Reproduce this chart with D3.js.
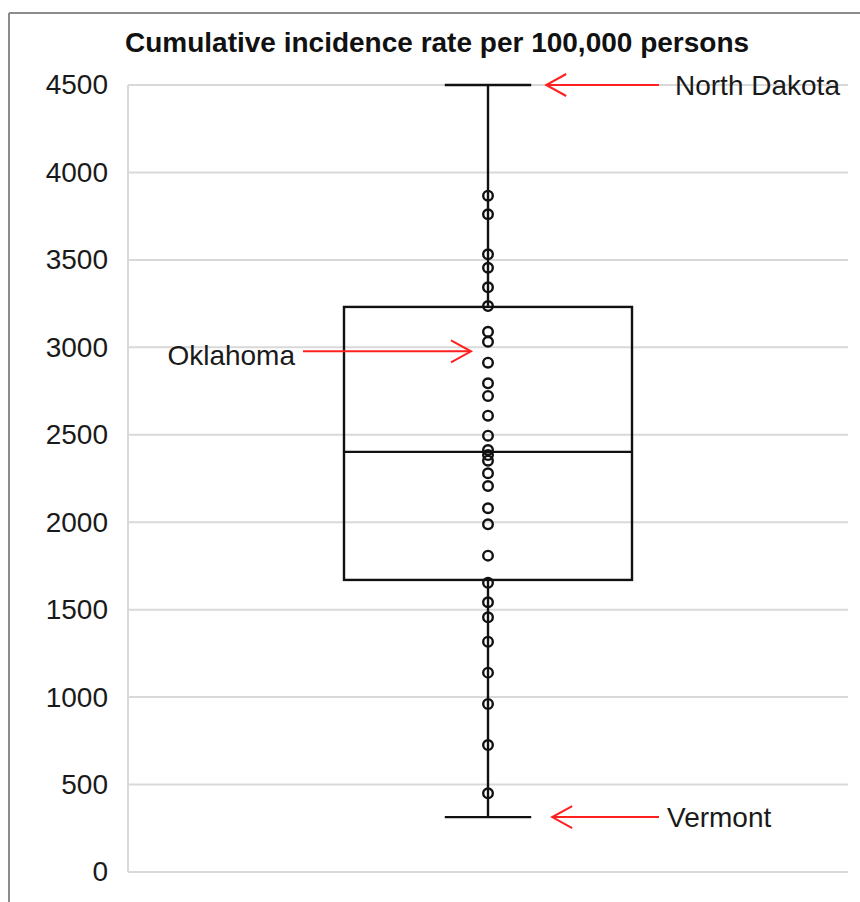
<!DOCTYPE html>
<meta charset="utf-8">
<style>
body { margin: 0; background: white; }
text { font-family: "Liberation Sans", Arial, sans-serif; }
</style>
<body>
<script src="https://d3js.org/d3.v7.min.js"></script>
<script>

const width = 860
const height = 902

// Box statistics
const boxMin = 314
const boxQ1 = 1670
const boxMedian = 2402
const boxQ3 = 3231
const boxMax = 4500

// State values shown as circles
const points = [3867, 3761, 3532, 3455, 3343, 3236, 3089, 3032, 2912, 2794,
  2722, 2609, 2495, 2413, 2384, 2352, 2280, 2207, 2080, 1988,
  1809, 1654, 1542, 1456, 1317, 1140, 961, 726, 450]

const yTicks = [0, 500, 1000, 1500, 2000, 2500, 3000, 3500, 4000, 4500]

// Labelled states
const notes = [
  { name: 'North Dakota', value: 4500, side: 'right' },
  { name: 'Oklahoma', value: 3000, side: 'left' },
  { name: 'Vermont', value: 314, side: 'right' }
]

const svg = d3.select('body')
  .append('svg')
  .attr('width', width)
  .attr('height', height)

// frame of the screenshot
svg.append('line').attr('x1', 9).attr('x2', 9).attr('y1', 13).attr('y2', height)
  .attr('stroke', '#8c8c8c').attr('stroke-width', 2)
svg.append('line').attr('x1', 9).attr('x2', width).attr('y1', 13).attr('y2', 13)
  .attr('stroke', '#8c8c8c').attr('stroke-width', 2)

const y = d3.scaleLinear()
  .domain([0, 4500])
  .range([872, 85])

const x = d3.scaleBand()
  .domain(['all'])
  .range([128, 848])

const cx = x('all') + x.bandwidth() / 2
const boxW = x.bandwidth() * 0.4
const capW = x.bandwidth() * 0.12

// gridlines
svg.append('g')
  .selectAll('line')
  .data(yTicks)
  .join('line')
  .attr('x1', 128)
  .attr('x2', 848)
  .attr('y1', d => y(d))
  .attr('y2', d => y(d))
  .attr('stroke', '#d9d9d9')
  .attr('stroke-width', 2)

svg.append('line')
  .attr('x1', 128).attr('x2', 128)
  .attr('y1', y(4500)).attr('y2', y(0))
  .attr('stroke', '#d9d9d9')
  .attr('stroke-width', 2)

// y axis labels
const axis = d3.axisLeft(y).tickValues(yTicks).tickFormat(d3.format('d')).tickSize(0).tickPadding(20)
svg.append('g')
  .attr('transform', 'translate(128,0)')
  .call(axis)
  .call(g => g.select('.domain').remove())
  .selectAll('text')
  .attr('font-size', 28)
  .attr('font-family', '"Liberation Sans", Arial, sans-serif')
  .attr('fill', '#1a1a1a')

// title
svg.append('text')
  .attr('x', 125)
  .attr('y', 52)
  .attr('font-size', 28)
  .attr('font-weight', 'bold')
  .attr('fill', '#111')
  .text('Cumulative incidence rate per 100,000 persons')

// whiskers
const whisk = svg.append('g').attr('stroke', '#111').attr('stroke-width', 2.4)
whisk.append('line').attr('x1', cx).attr('x2', cx).attr('y1', y(boxMax)).attr('y2', y(boxQ3))
whisk.append('line').attr('x1', cx).attr('x2', cx).attr('y1', y(boxQ1)).attr('y2', y(boxMin))
whisk.append('line').attr('x1', cx - capW / 2).attr('x2', cx + capW / 2).attr('y1', y(boxMax)).attr('y2', y(boxMax))
whisk.append('line').attr('x1', cx - capW / 2).attr('x2', cx + capW / 2).attr('y1', y(boxMin)).attr('y2', y(boxMin))

// box
svg.append('rect')
  .attr('x', cx - boxW / 2)
  .attr('y', y(boxQ3))
  .attr('width', boxW)
  .attr('height', y(boxQ1) - y(boxQ3))
  .attr('fill', 'none')
  .attr('stroke', '#111')
  .attr('stroke-width', 2.4)

svg.append('line')
  .attr('x1', cx - boxW / 2).attr('x2', cx + boxW / 2)
  .attr('y1', y(boxMedian)).attr('y2', y(boxMedian))
  .attr('stroke', '#111')
  .attr('stroke-width', 2.4)

// points
svg.append('g')
  .selectAll('circle')
  .data(points)
  .join('circle')
  .attr('cx', cx)
  .attr('cy', d => y(d))
  .attr('r', 4.8)
  .attr('fill', 'none')
  .attr('stroke', '#111')
  .attr('stroke-width', 2.4)

// annotations with red arrows
notes.forEach(n => {
  const yy = n.side === 'left' ? y(n.value) + 4 : y(n.value)
  let tip, tail, labelX, anchor, dy
  if (n.side === 'right') {
    tip = cx + capW / 2 + (n.value === boxMax ? 15 : 21)
    tail = cx + 171
    labelX = n.value === boxMax ? tail + 16 : tail + 8
    anchor = 'start'
    dy = 10
  } else {
    tip = cx - 17
    tail = cx - 185
    labelX = tail - 8
    anchor = 'end'
    dy = 14
  }
  const dir = tip > tail ? 1 : -1
  const a = svg.append('g').attr('stroke', '#ff2020').attr('stroke-width', 2).attr('fill', 'none')
  a.append('line').attr('x1', tail).attr('x2', tip).attr('y1', yy).attr('y2', yy)
  a.append('path')
    .attr('d', `M${tip - dir * 20},${yy - 11}L${tip},${yy}L${tip - dir * 20},${yy + 11}`)
  svg.append('text')
    .attr('x', labelX)
    .attr('y', yy + dy)
    .attr('text-anchor', anchor)
    .attr('font-size', 28)
    .attr('fill', '#1a1a1a')
    .text(n.name)
})

</script>
</body>
</html>
